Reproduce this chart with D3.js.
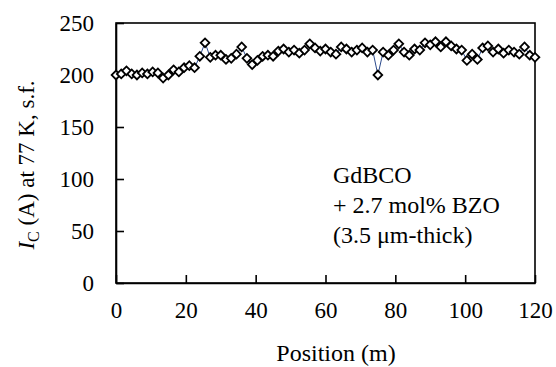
<!DOCTYPE html>
<html>
<head>
<meta charset="utf-8">
<script src="https://cdn.jsdelivr.net/npm/d3@7"></script>
<style>
  html, body { margin: 0; padding: 0; background: #fff; }
  svg text { font-family: "Liberation Serif", "Times New Roman", serif; fill: #000; }
</style>
</head>
<body>
<svg id="chart" width="556" height="367"></svg>
<script>
// Data
const positions = d3.range(0, 121, 1.5);
const current = [
  200, 201, 204, 201, 200, 202, 201, 203, 202, 197,
  200, 205, 203, 207, 209, 207, 218, 231, 217, 219,
  219, 215, 216, 220, 227, 216, 210, 214, 218, 219,
  218, 223, 225, 222, 224, 221, 224, 230, 226, 223,
  225, 222, 220, 227, 225, 222, 224, 226, 222, 224,
  200, 222, 219, 224, 230, 222, 219, 225, 224, 231,
  229, 232, 227, 232, 228, 225, 224, 214, 220, 215,
  226, 228, 222, 225, 221, 224, 222, 220, 227, 219,
  217
];
const xTicks = [0, 20, 40, 60, 80, 100, 120];
const yTicks = [0, 50, 100, 150, 200, 250];
const noteLines = ["GdBCO", "+ 2.7 mol% BZO", "(3.5 \u03bcm-thick)"];

const data = positions.map((p, i) => ({ x: p, y: current[i] }));

const margin = { top: 23, right: 21, bottom: 84, left: 116 };
const width = 556, height = 367;
const serif = "'Liberation Serif', 'Times New Roman', serif";

const $svg = d3.select("#chart").attr("font-family", serif);

const x = d3.scaleLinear()
  .domain([0, 120])
  .range([margin.left, width - margin.right]);

const y = d3.scaleLinear()
  .domain([0, 250])
  .range([height - margin.bottom, margin.top]);

// Axes (ticks point inward)
const xAxis = d3.axisBottom(x).tickValues(xTicks).tickSizeInner(-8).tickSizeOuter(0).tickPadding(19);
const yAxis = d3.axisLeft(y).tickValues(yTicks).tickSizeInner(-8).tickSizeOuter(0).tickPadding(22);

const $xAxis = $svg.append("g")
  .attr("transform", `translate(0,${y(0)})`)
  .call(xAxis);
const $yAxis = $svg.append("g")
  .attr("transform", `translate(${x(0)},0)`)
  .call(yAxis);

[$xAxis, $yAxis].forEach($a => {
  $a.attr("font-family", serif).attr("font-size", 23);
  $a.select(".domain").attr("stroke", "#000").attr("stroke-width", 1.6);
  $a.selectAll(".tick line").attr("stroke", "#000").attr("stroke-width", 1.6);
  $a.selectAll(".tick text").attr("fill", "#000");
});

// Frame top + right
$svg.append("rect")
  .attr("x", x(0))
  .attr("y", y(250))
  .attr("width", x(120) - x(0))
  .attr("height", y(0) - y(250))
  .attr("fill", "none")
  .attr("stroke", "#000")
  .attr("stroke-width", 1.6);

// Line
$svg.append("path")
  .datum(data)
  .attr("fill", "none")
  .attr("stroke", "#2b4a8c")
  .attr("stroke-width", 1)
  .attr("d", d3.line().x(d => x(d.x)).y(d => y(d.y)));

// Diamond markers
$svg.append("g")
  .selectAll("path")
  .data(data)
  .join("path")
    .attr("transform", d => `translate(${x(d.x)},${y(d.y)}) rotate(45)`)
    .attr("d", d3.symbol(d3.symbolSquare, 38)())
    .attr("fill", "#fff")
    .attr("stroke", "#000")
    .attr("stroke-width", 1.8);

// Axis titles
$svg.append("text")
  .attr("x", 336)
  .attr("y", 361)
  .attr("text-anchor", "middle")
  .attr("font-size", 24)
  .text("Position (m)");

const yLabel = $svg.append("text")
  .attr("transform", `translate(34,${(y(0) + y(250)) / 2 + 12}) rotate(-90)`)
  .attr("text-anchor", "middle")
  .attr("font-size", 23);
yLabel.append("tspan").attr("font-style", "italic").text("I");
yLabel.append("tspan").attr("font-size", 16).attr("dy", 5).text("C");
yLabel.append("tspan").attr("dy", -5).text(" (A) at 77 K, s.f.");

// Annotation
$svg.append("g")
  .selectAll("text")
  .data(noteLines)
  .join("text")
    .attr("x", 333)
    .attr("y", (d, i) => 183 + i * 30)
    .attr("font-size", 24)
    .text(d => d);
</script>
</body>
</html>
